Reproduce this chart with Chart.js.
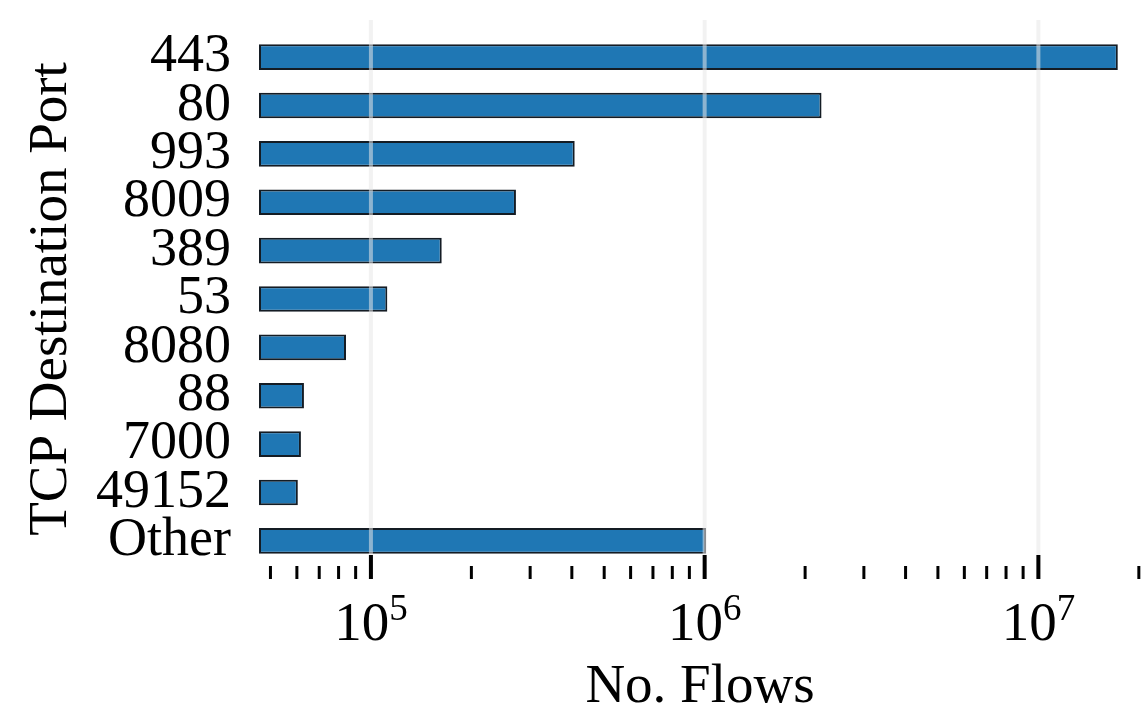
<!DOCTYPE html>
<html>
<head>
<meta charset="utf-8">
<script src="https://cdn.jsdelivr.net/npm/chart.js@4.4.1/dist/chart.umd.min.js"></script>
<style>
  html, body { margin: 0; padding: 0; background: #ffffff; overflow: hidden; }
  #wrap { width: 1147px; height: 715px; }
</style>
</head>
<body>
<div id="wrap"><canvas id="c" width="1147" height="715"></canvas></div>
<script>
// ---- data ----
const ports = ['443', '80', '993', '8009', '389', '53', '8080', '88', '7000', '49152', 'Other'];
const flows = [17300000, 2240000, 408000, 272000, 163000, 112000, 84200, 63000, 61700, 60400, 1010000];
const majorTickValues = [1e5, 1e6, 1e7];
const majorTickExponents = ['5', '6', '7'];
const minorTickValues = [5e4, 6e4, 7e4, 8e4, 9e4,
  2e5, 3e5, 4e5, 5e5, 6e5, 7e5, 8e5, 9e5,
  2e6, 3e6, 4e6, 5e6, 6e6, 7e6, 8e6, 9e6,
  2e7];
const xMin = 46200;
const xMax = 20300000;
const xTitle = 'No. Flows';
const yTitle = 'TCP Destination Port';

const SERIF = "'Liberation Serif', 'DejaVu Serif', serif";

const overlayPlugin = {
  id: 'overlay',
  afterDatasetsDraw(chart) {
    const ctx = chart.ctx;
    const xs = chart.scales.x;
    const area = chart.chartArea;
    ctx.save();
    // grid lines drawn above bars (semi-transparent)
    ctx.strokeStyle = 'rgba(232,232,232,0.55)';
    ctx.lineWidth = 4;
    majorTickValues.forEach(v => {
      const px = xs.getPixelForValue(v);
      ctx.beginPath();
      ctx.moveTo(px, area.top - 13);
      ctx.lineTo(px, area.bottom + 14);
      ctx.stroke();
    });
    ctx.restore();
  },
  afterDraw(chart) {
    const ctx = chart.ctx;
    const xs = chart.scales.x;
    const area = chart.chartArea;
    ctx.save();
    ctx.strokeStyle = '#000';
    // major ticks
    ctx.lineWidth = 4;
    majorTickValues.forEach(v => {
      const px = xs.getPixelForValue(v);
      ctx.beginPath();
      ctx.moveTo(px, area.bottom - 10);
      ctx.lineTo(px, area.bottom + 14);
      ctx.stroke();
    });
    // minor ticks
    ctx.lineWidth = 3;
    minorTickValues.forEach(v => {
      const px = xs.getPixelForValue(v);
      ctx.beginPath();
      ctx.moveTo(px, area.bottom + 1);
      ctx.lineTo(px, area.bottom + 14);
      ctx.stroke();
    });
    // tick labels 10^k
    ctx.fillStyle = '#000';
    ctx.textBaseline = 'alphabetic';
    ctx.textAlign = 'left';
    const baseFont = '55px ' + SERIF;
    const expFont = '37px ' + SERIF;
    majorTickValues.forEach((v, i) => {
      const px = xs.getPixelForValue(v);
      ctx.font = baseFont;
      const w1 = ctx.measureText('10').width;
      ctx.font = expFont;
      const w2 = ctx.measureText(majorTickExponents[i]).width;
      const start = px - (w1 + w2) / 2;
      ctx.font = baseFont;
      ctx.fillText('10', start, area.bottom + 75);
      ctx.font = expFont;
      ctx.fillText(majorTickExponents[i], start + w1, area.bottom + 55);
    });
    ctx.restore();
  }
};

new Chart(document.getElementById('c'), {
  type: 'bar',
  data: {
    labels: ports,
    datasets: [{
      data: flows,
      backgroundColor: '#1f77b4',
      borderColor: '#141c24',
      borderWidth: 2,
      borderSkipped: false,
      barPercentage: 0.53,
      categoryPercentage: 1.0
    }]
  },
  options: {
    indexAxis: 'y',
    responsive: false,
    animation: false,
    devicePixelRatio: 1,
    layout: { padding: { top: 33, right: 6, left: 0, bottom: 0 } },
    plugins: {
      legend: { display: false },
      tooltip: { enabled: false }
    },
    scales: {
      x: {
        type: 'logarithmic',
        min: xMin,
        max: xMax,
        border: { display: false },
        grid: { display: false, drawTicks: false },
        ticks: { display: false },
        title: {
          display: true,
          text: xTitle,
          color: '#000',
          font: { family: SERIF, size: 55, lineHeight: 1.0 },
          padding: { top: 0, bottom: 0 }
        },
        afterFit(scale) { scale.height = 150; scale.paddingLeft = 0; scale.paddingRight = 0; }
      },
      y: {
        border: { display: false },
        grid: { display: false, drawTicks: false },
        ticks: {
          color: '#000',
          padding: 28,
          autoSkip: false,
          font: { family: SERIF, size: 54 }
        },
        title: {
          display: true,
          text: yTitle,
          color: '#000',
          font: { family: SERIF, size: 55, lineHeight: 1.0 },
          padding: { top: 24, bottom: 0 }
        },
        afterFit(scale) { scale.width = 259; scale.paddingTop = 0; scale.paddingBottom = 0; }
      }
    }
  },
  plugins: [overlayPlugin]
});
</script>
</body>
</html>
